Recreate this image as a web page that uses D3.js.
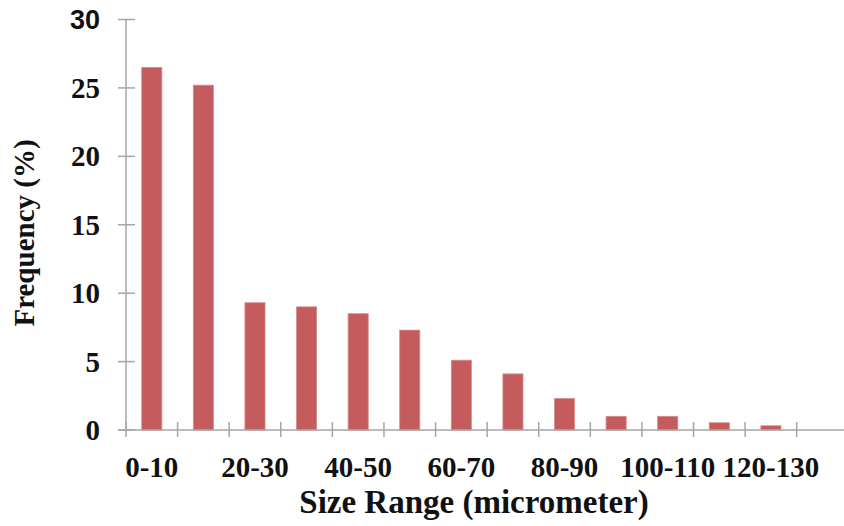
<!DOCTYPE html>
<html>
<head>
<meta charset="utf-8">
<script src="https://cdn.jsdelivr.net/npm/d3@7"></script>
<style>
  body { margin: 0; background: #fff; }
  svg { display: block; }
</style>
</head>
<body>
<script>
// size ranges (micrometer) and frequency (%)
const categories = ['0-10', '10-20', '20-30', '30-40', '40-50', '50-60', '60-70',
  '70-80', '80-90', '90-100', '100-110', '110-120', '120-130'];
const frequency = [26.5, 25.2, 9.3, 9.0, 8.5, 7.3, 5.1, 4.1, 2.3, 1.0, 1.0, 0.53, 0.31];
const yTicks = [0, 5, 10, 15, 20, 25, 30];
const xLabelsShown = ['0-10', '20-30', '40-50', '60-70', '80-90', '100-110', '120-130'];

const W = 844, H = 526;
const plot = { left: 126, right: 796.7, top: 19.5, bottom: 430 };
const serif = '"Liberation Serif", "Times New Roman", serif';

const svg = d3.select('body').append('svg')
  .attr('width', W)
  .attr('height', H);

const x = d3.scaleBand()
  .domain(categories)
  .range([plot.left, plot.right])
  .paddingInner(0.61)
  .paddingOuter(0.305);

const y = d3.scaleLinear()
  .domain([0, 30])
  .range([plot.bottom, plot.top]);

// y axis line + ticks
svg.append('line')
  .attr('x1', plot.left).attr('x2', plot.left)
  .attr('y1', y(30)).attr('y2', y(0))
  .attr('stroke', '#a6a6a6')
  .attr('stroke-width', 1.5);

svg.selectAll('.ytick')
  .data(yTicks)
  .enter().append('line')
    .attr('class', 'ytick')
    .attr('x1', plot.left - 8).attr('x2', plot.left + 9)
    .attr('y1', d => y(d)).attr('y2', d => y(d))
    .attr('stroke', '#a6a6a6')
    .attr('stroke-width', 1.5);

svg.selectAll('.ylabel')
  .data(yTicks)
  .enter().append('text')
    .attr('class', 'ylabel')
    .attr('x', plot.left - 26)
    .attr('y', d => y(d))
    .attr('dy', '0.35em')
    .attr('text-anchor', 'end')
    .style('font-family', d => d === 30 ? '"Liberation Sans", Arial, sans-serif' : serif)
    .style('font-weight', 'bold')
    .style('font-size', d => d === 30 ? '27px' : '29px')
    .attr('fill', '#111')
    .text(d => d);

// bars
svg.selectAll('.bar')
  .data(frequency)
  .enter().append('rect')
    .attr('class', 'bar')
    .attr('x', (d, i) => x(categories[i]))
    .attr('y', d => y(d))
    .attr('width', x.bandwidth())
    .attr('height', d => y(0) - y(d))
    .attr('fill', '#c45c5d')
    .attr('stroke', '#d98a8a')
    .attr('stroke-width', 0.8);

// x axis line + boundary ticks
svg.append('line')
  .attr('x1', plot.left - 8).attr('x2', W)
  .attr('y1', y(0)).attr('y2', y(0))
  .attr('stroke', '#a6a6a6')
  .attr('stroke-width', 1.5);

const bounds = d3.range(categories.length + 1).map(i => plot.left + i * x.step());
svg.selectAll('.xtick')
  .data(bounds)
  .enter().append('line')
    .attr('class', 'xtick')
    .attr('x1', d => d).attr('x2', d => d)
    .attr('y1', y(0) - 8).attr('y2', y(0) + 7)
    .attr('stroke', '#a6a6a6')
    .attr('stroke-width', 1.5);

svg.selectAll('.xlabel')
  .data(xLabelsShown)
  .enter().append('text')
    .attr('class', 'xlabel')
    .attr('x', d => x(d) + x.bandwidth() / 2)
    .attr('y', 476.5)
    .attr('text-anchor', 'middle')
    .style('font-family', serif)
    .style('font-weight', 'bold')
    .style('font-size', '29px')
    .attr('fill', '#111')
    .text(d => d);

// axis titles
svg.append('text')
  .attr('x', 474)
  .attr('y', 513)
  .attr('text-anchor', 'middle')
  .style('font-family', serif)
  .style('font-weight', 'bold')
  .style('font-size', '33px')
  .attr('fill', '#111')
  .text('Size Range (micrometer)');

svg.append('text')
  .attr('transform', 'translate(34,233) rotate(-90)')
  .attr('text-anchor', 'middle')
  .style('font-family', serif)
  .style('font-weight', 'bold')
  .style('font-size', '29px')
  .attr('fill', '#111')
  .text('Frequency (%)');
</script>
</body>
</html>
